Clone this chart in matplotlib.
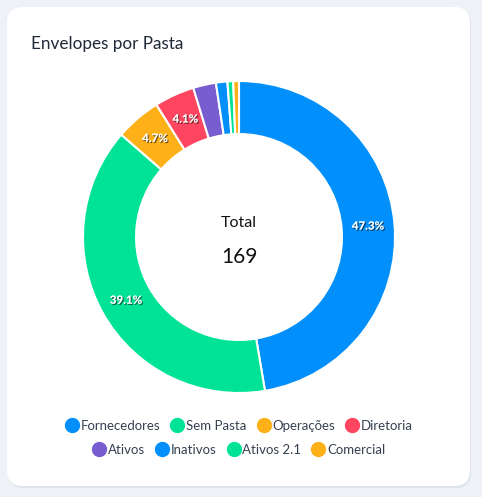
import numpy as np
import matplotlib.pyplot as plt
import matplotlib.patheffects as pe
from matplotlib.patches import FancyBboxPatch
from matplotlib.lines import Line2D

plt.rcParams['font.family'] = ['Lato', 'DejaVu Sans']

# dados
pastas = ['Fornecedores', 'Sem Pasta', 'Operações', 'Diretoria',
          'Ativos', 'Inativos', 'Ativos 2.1', 'Comercial']
envelopes = [80, 66, 8, 7, 4, 2, 1, 1]
cores = ['#008ffb', '#00e396', '#feb019', '#ff4560',
         '#775dd0', '#008ffb', '#00e396', '#feb019']

W, H = 482, 497
fig = plt.figure(figsize=(W / 100, H / 100), dpi=100)
fig.patch.set_facecolor('#eef2f7')

# fundo / cartao
bg = fig.add_axes([0, 0, 1, 1])
bg.set_xlim(0, W)
bg.set_ylim(H, 0)
bg.axis('off')
sombra = FancyBboxPatch((8, 8), 463, 480, boxstyle='round,pad=0,rounding_size=16',
                        fc='#dfe4ea', ec='none', zorder=1)
cartao = FancyBboxPatch((7, 7), 463, 479, boxstyle='round,pad=0,rounding_size=16',
                        fc='white', ec='none', zorder=2)
bg.add_patch(sombra)
bg.add_patch(cartao)
bg.text(31, 44, 'Envelopes por Pasta', fontsize=12.3, color='#1f2937',
        va='center', ha='left', zorder=3)

# rosca
cx, cy, R = 239, 237, 156
ax = fig.add_axes([(cx - R) / W, (H - cy - R) / H, 2 * R / W, 2 * R / H])
wedges, _ = ax.pie(envelopes, colors=cores, startangle=90, counterclock=False,
                   radius=1, wedgeprops=dict(width=0.34, edgecolor='white', linewidth=1.5))
ax.set_xlim(-1, 1)
ax.set_ylim(-1, 1)
ax.set_aspect('equal')
ax.axis('off')

total = sum(envelopes)
sombra_txt = [pe.SimplePatchShadow(offset=(0.8, -0.8), shadow_rgbFace='black', alpha=0.55),
              pe.Normal()]
for w, v in zip(wedges, envelopes):
    pct = 100.0 * v / total
    if pct < 4:
        continue
    ang = np.deg2rad((w.theta1 + w.theta2) / 2)
    r = 1 - 0.34 / 2
    ax.text(r * np.cos(ang), r * np.sin(ang), '%.1f%%' % pct, ha='center', va='center',
            fontsize=8.3, fontweight='heavy', color='white', path_effects=sombra_txt)

ax.text(0, 0.09, 'Total', ha='center', va='center', fontsize=11.5, color='#111111')
ax.text(0, -0.13, str(total), ha='center', va='center', fontsize=15, color='#111111')

# legenda em duas linhas centradas
def legenda(nomes, cs, y):
    hs = [Line2D([], [], marker='o', ls='none', markersize=10, markerfacecolor=c,
                 markeredgecolor=c) for c in cs]
    fig.legend(hs, nomes, loc='center', bbox_to_anchor=(cx / W, 1 - y / H), ncol=len(nomes),
               frameon=False, fontsize=9.5, handletextpad=0.15, columnspacing=0.8,
               handlelength=1.0, labelcolor='#374151')

legenda(pastas[:4], cores[:4], 426)
legenda(pastas[4:], cores[4:], 450)

fig.savefig('out.png', dpi=100, facecolor=fig.get_facecolor())
